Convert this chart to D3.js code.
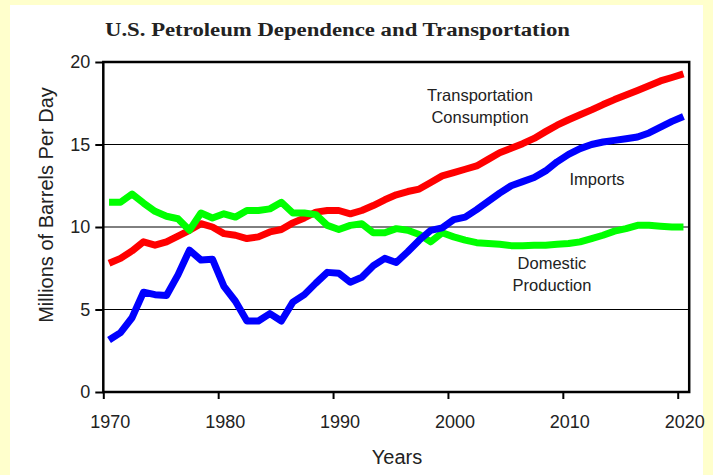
<!DOCTYPE html>
<html>
<head>
<meta charset="utf-8">
<script src="https://cdn.jsdelivr.net/npm/d3@7/dist/d3.min.js"></script>
<style>
  body { margin: 0; background: #ffffcc; }
  svg { display: block; }
  .tick text { font-family: "Liberation Sans", Arial, sans-serif; font-size: 18px; fill: #222; }
  .lbl { font-family: "Liberation Sans", Arial, sans-serif; fill: #222; }
</style>
</head>
<body>
<div id="chart"></div>
<script>
'use strict';

// Years on the x axis (points sit in the middle of each year)
var years = [1970, 1971, 1972, 1973, 1974, 1975, 1976, 1977, 1978, 1979,
             1980, 1981, 1982, 1983, 1984, 1985, 1986, 1987, 1988, 1989,
             1990, 1991, 1992, 1993, 1994, 1995, 1996, 1997, 1998, 1999,
             2000, 2001, 2002, 2003, 2004, 2005, 2006, 2007, 2008, 2009,
             2010, 2011, 2012, 2013, 2014, 2015, 2016, 2017, 2018, 2019,
             2020];

// Millions of barrels per day
var transportation = [7.8, 8.1, 8.55, 9.1, 8.9, 9.1, 9.45, 9.8, 10.2, 10.0,
                      9.6, 9.5, 9.3, 9.4, 9.7, 9.85, 10.25, 10.55, 10.9, 11.0,
                      11.0, 10.8, 11.0, 11.3, 11.65, 11.95, 12.15, 12.3, 12.7, 13.1,
                      13.3, 13.5, 13.7, 14.1, 14.5, 14.77, 15.05, 15.37, 15.78, 16.17,
                      16.5, 16.8, 17.1, 17.42, 17.72, 18.0, 18.28, 18.56, 18.85, 19.06,
                      19.28];

var imports = [3.15, 3.6, 4.5, 6.05, 5.9, 5.85, 7.1, 8.6, 8.0, 8.05,
               6.4, 5.5, 4.3, 4.3, 4.75, 4.3, 5.45, 5.9, 6.6, 7.25,
               7.2, 6.65, 6.95, 7.65, 8.1, 7.85, 8.5, 9.2, 9.8, 9.95,
               10.45, 10.6, 11.05, 11.55, 12.05, 12.5, 12.75, 13.0, 13.4, 13.95,
               14.4, 14.75, 15.0, 15.15, 15.25, 15.35, 15.45, 15.7, 16.05, 16.4,
               16.7];

var domestic = [11.5, 11.5, 12.0, 11.45, 10.95, 10.65, 10.5, 9.8, 10.85, 10.55,
                10.8, 10.6, 11.0, 11.0, 11.1, 11.5, 10.85, 10.85, 10.75, 10.1,
                9.85, 10.1, 10.2, 9.65, 9.65, 9.9, 9.8, 9.55, 9.1, 9.65,
                9.4, 9.2, 9.05, 9.0, 8.95, 8.87, 8.87, 8.9, 8.9, 8.95,
                9.0, 9.1, 9.3, 9.5, 9.75, 9.9, 10.1, 10.1, 10.05, 10.0,
                10.0];

var xTicks = [1970, 1980, 1990, 2000, 2010, 2020];
var yTicks = [0, 5, 10, 15, 20];
var gridValues = [5, 10, 15];

var width = 713, height = 475;

var svg = d3.select('#chart').append('svg')
    .attr('width', width)
    .attr('height', height);

// yellow page with a white sheet on it
svg.append('rect').attr('width', width).attr('height', height).attr('fill', '#ffffcc');
svg.append('rect').attr('x', 10).attr('y', 5).attr('width', 693).attr('height', 470).attr('fill', '#fff');

var x = d3.scaleLinear().domain([1970, 2021]).range([103.3, 689.2]);
var y = d3.scaleLinear().domain([0, 20]).range([392, 62]);

// horizontal grid
svg.append('g').selectAll('line')
    .data(gridValues)
    .enter().append('line')
    .attr('x1', x(1970)).attr('x2', x(2021))
    .attr('y1', function(d) { return y(d); })
    .attr('y2', function(d) { return y(d); })
    .attr('stroke', '#000')
    .attr('stroke-width', 1);

// series (drawn red, green, blue so the crossings stack like the original)
var series = [
    {name: 'transportation', values: transportation, color: '#ff0000'},
    {name: 'domestic', values: domestic, color: '#00ff00'},
    {name: 'imports', values: imports, color: '#0000ff'}
];

var line = d3.line()
    .x(function(d) { return x(d.year + 0.5); })
    .y(function(d) { return y(d.value); });

svg.append('g').selectAll('path')
    .data(series)
    .enter().append('path')
    .attr('fill', 'none')
    .attr('stroke', function(d) { return d.color; })
    .attr('stroke-width', 7)
    .attr('stroke-linejoin', 'round')
    .attr('stroke-linecap', 'butt')
    .attr('d', function(s) {
        return line(years.map(function(yr, i) { return {year: yr, value: s.values[i]}; }));
    });

// plot frame
svg.append('rect')
    .attr('x', x(1970)).attr('y', y(20))
    .attr('width', x(2021) - x(1970))
    .attr('height', y(0) - y(20))
    .attr('fill', 'none')
    .attr('stroke', '#000')
    .attr('stroke-width', 2.5);

// axes
var yAxis = svg.append('g')
    .attr('transform', 'translate(' + x(1970) + ',0)')
    .call(d3.axisLeft(y).tickValues(yTicks).tickSize(8).tickPadding(5));
yAxis.select('.domain').remove();
yAxis.selectAll('.tick line').attr('stroke-width', 2);

var xAxis = svg.append('g')
    .attr('transform', 'translate(0,' + y(0) + ')')
    .call(d3.axisBottom(x).tickValues(xTicks).tickSize(7).tickFormat(d3.format('d')));
xAxis.select('.domain').remove();
xAxis.selectAll('.tick line').attr('stroke-width', 2);
xAxis.selectAll('.tick text').attr('x', 6.5).attr('y', 36).attr('dy', null);
xAxis.selectAll('text').attr('font-family', null).attr('font-size', null);
yAxis.selectAll('text').attr('font-family', null).attr('font-size', null);

// titles
svg.append('text')
    .attr('x', 337.5).attr('y', 36)
    .attr('text-anchor', 'middle')
    .attr('font-family', '"Liberation Serif", "Times New Roman", serif')
    .attr('font-weight', 'bold')
    .attr('font-size', 18)
    .attr('textLength', 465)
    .attr('lengthAdjust', 'spacingAndGlyphs')
    .attr('fill', '#222')
    .text('U.S. Petroleum Dependence and Transportation');

svg.append('text')
    .attr('class', 'lbl')
    .attr('x', 397).attr('y', 464)
    .attr('text-anchor', 'middle')
    .attr('font-size', 20)
    .text('Years');

svg.append('text')
    .attr('class', 'lbl')
    .attr('transform', 'translate(53,205) rotate(-90)')
    .attr('text-anchor', 'middle')
    .attr('font-size', 20)
    .text('Millions of Barrels Per Day');

// series labels
var notes = [
    {lines: ['Transportation', 'Consumption'], x: 480, y: 101},
    {lines: ['Imports'], x: 597, y: 185},
    {lines: ['Domestic', 'Production'], x: 552, y: 269}
];

notes.forEach(function(n) {
    var t = svg.append('text')
        .attr('class', 'lbl')
        .attr('text-anchor', 'middle')
        .attr('font-size', 16.5);
    n.lines.forEach(function(s, i) {
        t.append('tspan').attr('x', n.x).attr('y', n.y + i * 22).text(s);
    });
});
</script>
</body>
</html>
